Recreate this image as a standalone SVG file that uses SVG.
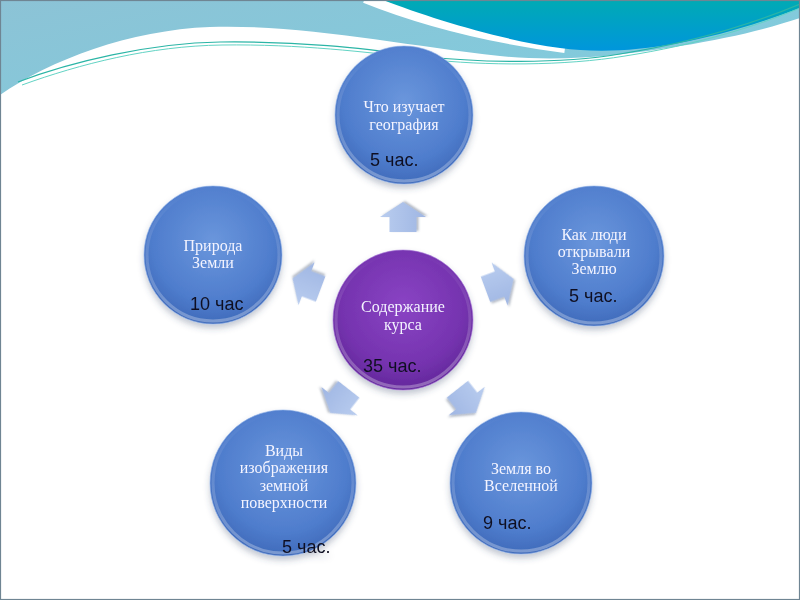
<svg xmlns="http://www.w3.org/2000/svg" width="800" height="600" viewBox="0 0 800 600">
  <defs>
    <linearGradient id="cyanBg" x1="0" y1="0" x2="0.3" y2="1">
      <stop offset="0" stop-color="#8cc3d6"/>
      <stop offset="1" stop-color="#6cdbe9"/>
    </linearGradient>
    <linearGradient id="teal" x1="0" y1="0" x2="0" y2="1">
      <stop offset="0" stop-color="#00aab4"/>
      <stop offset="1" stop-color="#0096dc"/>
    </linearGradient>
    <radialGradient id="blueFill" cx="50%" cy="40%" r="62%">
      <stop offset="0" stop-color="#6a96dc"/>
      <stop offset="0.7" stop-color="#4f7dcd"/>
      <stop offset="1" stop-color="#3d68b8"/>
    </radialGradient>
    <radialGradient id="purpleFill" cx="50%" cy="40%" r="62%">
      <stop offset="0" stop-color="#8a44c4"/>
      <stop offset="0.7" stop-color="#7533af"/>
      <stop offset="1" stop-color="#602698"/>
    </radialGradient>
    <linearGradient id="rim" x1="0" y1="0" x2="0" y2="1">
      <stop offset="0" stop-color="#ffffff" stop-opacity="0"/>
      <stop offset="1" stop-color="#ffffff" stop-opacity="0.3"/>
    </linearGradient>
    <linearGradient id="arrowFill" x1="0" y1="0" x2="0" y2="1">
      <stop offset="0" stop-color="#b9cdef"/>
      <stop offset="1" stop-color="#9fb6e3"/>
    </linearGradient>
    <filter id="shadow" x="-20%" y="-20%" width="140%" height="150%">
      <feDropShadow dx="0" dy="4" stdDeviation="3" flood-color="#3a4a6a" flood-opacity="0.3"/>
    </filter>
    <filter id="ashadow" x="-30%" y="-30%" width="160%" height="160%">
      <feDropShadow dx="1" dy="2" stdDeviation="1" flood-color="#55607a" flood-opacity="0.45"/>
    </filter>
    <path id="arrow" d="M88,-13.5 L103,-13.5 L103,-23 L118,0 L103,23 L103,13.5 L88,13.5 Z"/>
  </defs>
  <style>
    .blue { fill: url(#blueFill); stroke: #8fb0e8; stroke-width: 1; stroke-opacity: 0.6; }
    .purple { fill: url(#purpleFill); stroke: #a87ad8; stroke-width: 1; stroke-opacity: 0.6; }
    .rim { fill: none; stroke: url(#rim); stroke-width: 3; }
    .lbl { font-family: "Liberation Serif", "DejaVu Serif", serif; font-size: 16px; fill: #f4f4ff; text-anchor: middle; }
    .hrs { font-family: "Liberation Sans", Arial, sans-serif; font-size: 18px; fill: #111122; }
    .arr { fill: url(#arrowFill); filter: url(#ashadow); }
  </style>

  <!-- background -->
  <rect x="0" y="0" width="800" height="600" fill="url(#cyanBg)"/>
  <path d="M365,-2 C425,22 490,38 565,48" fill="none" stroke="#ffffff" stroke-width="10"/>
  <path d="M383,0 C430,18 500,40 560,48 C625,57 705,44 800,8 L800,0 Z" fill="url(#teal)"/>
  <path d="M0,95 C50,60 130,30 210,27 C300,24 400,45 500,56 C560,62 620,56 680,46 C730,38 770,28 800,18 L800,600 L0,600 Z" fill="#ffffff"/>
  <path d="M18,82 C70,62 150,43 220,42 C300,41 360,48 420,56 C480,63 560,64 620,54 C690,43 750,25 800,4" fill="none" stroke="#2bb5a6" stroke-width="1.2"/>
  <path d="M22,85 C80,64 150,46 222,45 C300,44 365,52 425,59 C485,66 565,66 625,56 C695,45 755,27 800,8" fill="none" stroke="#62d3c4" stroke-width="1"/>
  <rect x="0.5" y="0.5" width="799" height="599" fill="none" stroke="#6f8593" stroke-width="1.2"/>

  <!-- connectors -->
  <g id="connectors">
    <use href="#arrow" class="arr" transform="translate(403,320) rotate(-90)"/>
    <use href="#arrow" class="arr" transform="translate(403,320) rotate(-20.4)"/>
    <use href="#arrow" class="arr" transform="translate(403,320) rotate(200.6)"/>
    <use href="#arrow" class="arr" transform="translate(403,320) rotate(51.8)"/>
    <use href="#arrow" class="arr" transform="translate(403,320) rotate(128)"/>
  </g>

  <!-- nodes -->
  <g id="node-top" filter="url(#shadow)">
    <circle cx="404" cy="115" r="69" class="blue"/>
    <circle cx="404" cy="115" r="66" class="rim"/>
    <text class="lbl" x="404" y="112">Что изучает</text>
    <text class="lbl" x="404" y="130">география</text>
    <text class="hrs" x="370" y="166">5 час.</text>
  </g>

  <g id="node-left" filter="url(#shadow)">
    <circle cx="213" cy="255" r="69" class="blue"/>
    <circle cx="213" cy="255" r="66" class="rim"/>
    <text class="lbl" x="213" y="251">Природа</text>
    <text class="lbl" x="213" y="268">Земли</text>
    <text class="hrs" x="190" y="310">10 час</text>
  </g>

  <g id="node-right" filter="url(#shadow)">
    <circle cx="594" cy="256" r="70" class="blue"/>
    <circle cx="594" cy="256" r="67" class="rim"/>
    <text class="lbl" x="594" y="240">Как люди</text>
    <text class="lbl" x="594" y="257">открывали</text>
    <text class="lbl" x="594" y="274">Землю</text>
    <text class="hrs" x="569" y="302">5 час.</text>
  </g>

  <g id="node-center" filter="url(#shadow)">
    <circle cx="403" cy="320" r="70" class="purple"/>
    <circle cx="403" cy="320" r="67" class="rim"/>
    <text class="lbl" x="403" y="312">Содержание</text>
    <text class="lbl" x="403" y="330">курса</text>
    <text class="hrs" x="363" y="372">35 час.</text>
  </g>

  <g id="node-bottom-right" filter="url(#shadow)">
    <circle cx="521" cy="483" r="71" class="blue"/>
    <circle cx="521" cy="483" r="68" class="rim"/>
    <text class="lbl" x="521" y="474">Земля во</text>
    <text class="lbl" x="521" y="491">Вселенной</text>
    <text class="hrs" x="483" y="529">9 час.</text>
  </g>

  <g id="node-bottom-left" filter="url(#shadow)">
    <circle cx="283" cy="483" r="73" class="blue"/>
    <circle cx="283" cy="483" r="70" class="rim"/>
    <text class="lbl" x="284" y="456">Виды</text>
    <text class="lbl" x="284" y="473">изображения</text>
    <text class="lbl" x="284" y="491">земной</text>
    <text class="lbl" x="284" y="508">поверхности</text>
    <text class="hrs" x="282" y="553">5 час.</text>
  </g>
</svg>
